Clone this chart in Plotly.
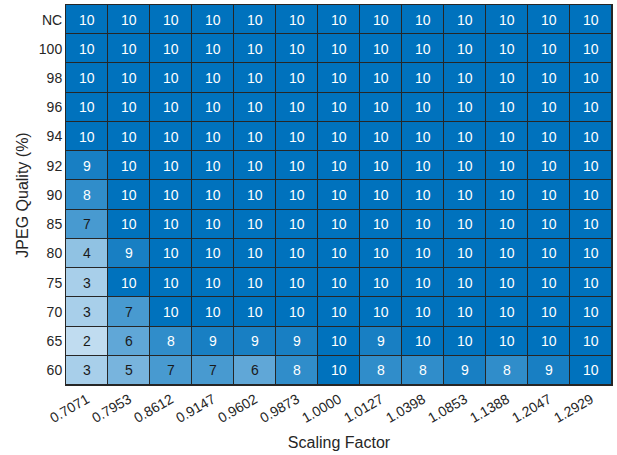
import plotly.graph_objects as go

scaling_factors = ["0.7071", "0.7953", "0.8612", "0.9147", "0.9602", "0.9873", "1.0000",
                   "1.0127", "1.0398", "1.0853", "1.1388", "1.2047", "1.2929"]
jpeg_quality = ["NC", "100", "98", "96", "94", "92", "90", "85", "80", "75", "70", "65", "60"]

values = [
    [10, 10, 10, 10, 10, 10, 10, 10, 10, 10, 10, 10, 10],  # NC
    [10, 10, 10, 10, 10, 10, 10, 10, 10, 10, 10, 10, 10],  # 100
    [10, 10, 10, 10, 10, 10, 10, 10, 10, 10, 10, 10, 10],  # 98
    [10, 10, 10, 10, 10, 10, 10, 10, 10, 10, 10, 10, 10],  # 96
    [10, 10, 10, 10, 10, 10, 10, 10, 10, 10, 10, 10, 10],  # 94
    [9, 10, 10, 10, 10, 10, 10, 10, 10, 10, 10, 10, 10],   # 92
    [8, 10, 10, 10, 10, 10, 10, 10, 10, 10, 10, 10, 10],   # 90
    [7, 10, 10, 10, 10, 10, 10, 10, 10, 10, 10, 10, 10],   # 85
    [4, 9, 10, 10, 10, 10, 10, 10, 10, 10, 10, 10, 10],    # 80
    [3, 10, 10, 10, 10, 10, 10, 10, 10, 10, 10, 10, 10],   # 75
    [3, 7, 10, 10, 10, 10, 10, 10, 10, 10, 10, 10, 10],    # 70
    [2, 6, 8, 9, 9, 9, 10, 9, 10, 10, 10, 10, 10],         # 65
    [3, 5, 7, 7, 6, 8, 10, 8, 8, 9, 8, 9, 10],             # 60
]

fig = go.Figure()
fig.add_trace(go.Heatmap(
    z=values, x=scaling_factors, y=jpeg_quality,
    colorscale=[[0, "rgb(192,220,240)"], [1, "rgb(0,114,189)"]],
    zmin=2, zmax=10, showscale=False, xgap=1, ygap=1,
    hoverinfo="skip",
))

annotations = []
for r, row in enumerate(values):
    for c, v in enumerate(row):
        annotations.append(dict(
            x=c, y=r, xref="x", yref="y", text=str(v), showarrow=False,
            font=dict(size=14, color="white" if v >= 8 else "#1a1a1a",
                      family="Liberation Sans, Arial, sans-serif"),
        ))

fig.update_layout(
    width=617, height=455,
    margin=dict(l=66, r=5, t=5, b=70),
    paper_bgcolor="white", plot_bgcolor="#262626",
    annotations=annotations,
    font=dict(family="Liberation Sans, Arial, sans-serif", color="#262626", size=14),
    xaxis=dict(type="category", categoryorder="array", categoryarray=scaling_factors,
               range=[-0.5, len(scaling_factors) - 0.5],
               tickangle=-30, showgrid=False, zeroline=False,
               ticks="", showline=True, linecolor="#262626", linewidth=1, mirror=True,
               title=dict(text="Scaling Factor", font=dict(size=16), standoff=11),
               tickfont=dict(size=14)),
    yaxis=dict(type="category", categoryorder="array", categoryarray=jpeg_quality,
               range=[len(jpeg_quality) - 0.5, -0.5], showgrid=False, zeroline=False,
               ticks="", showline=True, linecolor="#262626", linewidth=1, mirror=True,
               title=dict(text="JPEG Quality (%)", font=dict(size=16), standoff=6),
               tickfont=dict(size=14)),
)

fig.write_html("out.html")
